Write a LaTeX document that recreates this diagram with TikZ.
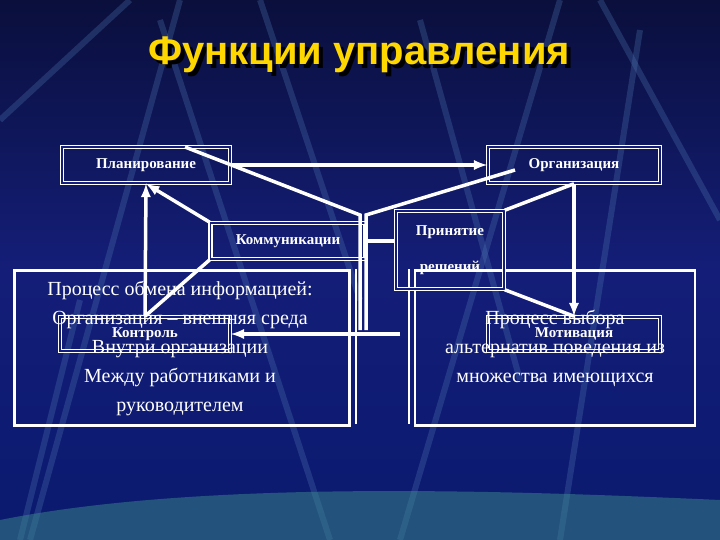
\documentclass[tikz,border=0pt]{standalone}
\usepackage{fontspec}
\setmainfont{Liberation Serif}
\newfontfamily\titlefont{Liberation Sans}
\definecolor{bgtop}{RGB}{10,15,60}
\definecolor{bgmid}{RGB}{20,30,120}
\definecolor{bgbot}{RGB}{10,25,110}
\definecolor{streak}{RGB}{80,120,180}
\definecolor{teal}{RGB}{60,140,140}
\definecolor{gold}{RGB}{255,215,0}
\begin{document}
\begin{tikzpicture}[x=1pt,y=-1pt,
  lbl/.style={draw=white,double=bgmid,double distance=1.5pt,line width=1.5pt,text=white,font=\bfseries\fontsize{15}{17}\selectfont,inner sep=0pt},
  big/.style={draw=white,line width=2.5pt,inner sep=0pt},
  con/.style={white,line width=3.5pt},
  arr/.style={white,line width=3.5pt,-latex}]
\useasboundingbox (0,0) rectangle (720,540);
\shade[top color=bgtop,bottom color=bgbot,middle color=bgmid] (0,0) rectangle (720,540);
\begin{scope}[line width=6pt,color=streak,opacity=0.3]
\draw (0,120) -- (130,0); \draw (30,540) -- (180,0); \draw (160,20) -- (330,540);
\draw (400,540) -- (560,0); \draw (420,20) -- (520,380); \draw (600,0) -- (720,220);
\draw (640,30) -- (560,540); \draw (260,0) -- (360,300); \draw (80,300) -- (20,540);
\end{scope}
\fill[teal,opacity=0.5] (0,520) .. controls (200,480) and (500,490) .. (720,500) -- (720,540) -- (0,540) -- cycle;
\node[font=\titlefont\bfseries\fontsize{40}{46}\selectfont,text=black] (shadow) at (363,59) {Функции управления};
\node[font=\titlefont\bfseries\fontsize{40}{46}\selectfont,text=gold] (title) at (359,55) {Функции управления};
% big boxes
\node[big,minimum width=335,minimum height=155] (lb) at (182,348) {};
\draw[white,line width=2.5pt] (lb.north east)++(5,0) -- ++(0,155);
\node[big,minimum width=280,minimum height=155] (rb) at (555,348) {};
\draw[white,line width=2.5pt] (rb.north west)++(-5,0) -- ++(0,155);
% small boxes
\node[lbl,minimum width=168,minimum height=36] (plan) at (146,165) {Планирование};
\node[lbl,minimum width=172,minimum height=36] (org) at (574,165) {Организация};
\node[lbl,minimum width=155,minimum height=36] (comm) at (288,241) {Коммуникации};
\node[lbl,minimum width=108,minimum height=78,align=center,font=\bfseries\fontsize{15}{36}\selectfont] (dec) at (450,250) {Принятие\\решений};
\node[lbl,minimum width=170,minimum height=34] (ctrl) at (145,334) {Контроль};
\node[lbl,minimum width=172,minimum height=34] (mot) at (574,334) {Мотивация};
% connectors
\coordinate (c1) at (360,215); \coordinate (c2) at (366,215);
\coordinate (c3) at (360,330); \coordinate (c4) at (366,330);
\coordinate (p1) at (185,147); \coordinate (o1) at (515,170);
\coordinate (a1) at (400,334);
\draw[arr] (plan.east) -- (org.west);
\draw[con] (p1) -- (c1) -- (c3);
\draw[con] (o1) -- (c2) -- (c4);
\draw[arr] (comm.north west) -- (plan.south);
\draw[arr] (ctrl.north) -- (plan.south);
\draw[con] (comm.south west) -- (ctrl.north);
\draw[arr] (org.south) -- (mot.north);
\draw[con] (org.south) -- (dec.north east);
\draw[con] (dec.south east) -- (mot.north);
\draw[arr] (a1) -- (ctrl.east);
\draw[con] (comm.east) -- (dec.west|-comm.east);
% box texts
\node[text=white,font=\fontsize{20}{29}\selectfont,align=center] (lt) at (180,348) {Процесс обмена информацией:\\Организация – внешняя среда\\Внутри организации\\Между работниками и\\руководителем};
\node[text=white,font=\fontsize{20}{29}\selectfont,align=center] (rt) at (555,348) {Процесс выбора\\альтернатив поведения из\\множества имеющихся};
\end{tikzpicture}
\end{document}
